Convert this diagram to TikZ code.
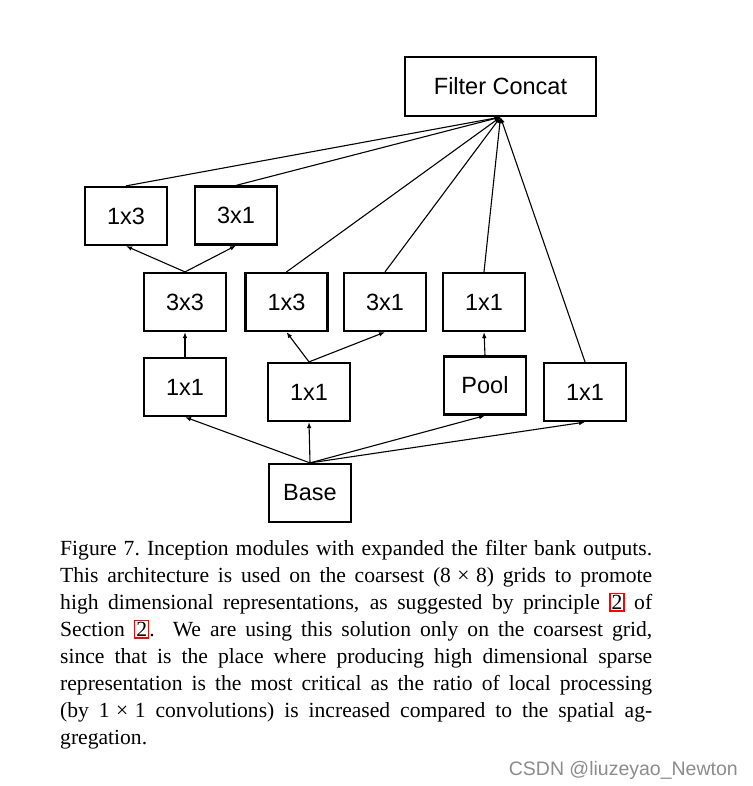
\documentclass[tikz,border=0pt]{standalone}
\usepackage{fontspec}
\setmainfont{Liberation Serif}
\newfontfamily\boxfont{Liberation Sans}
\usetikzlibrary{arrows.meta}
\newcommand{\redref}[1]{{\setlength\fboxsep{1pt}\setlength\fboxrule{1.3pt}\textcolor{red}{\fbox{\textcolor{black}{#1}}}}}
\begin{document}
\begin{tikzpicture}[x=1pt,y=-1pt,
  blk/.style={draw=black,line width=2.2pt,minimum width=82pt,minimum height=58pt,inner sep=0pt,font=\boxfont\fontsize{23.5}{26}\selectfont},
  conn/.style={line width=1.1pt,-{Latex[length=6pt,width=4.6pt]}},
  plain/.style={line width=1.1pt}]
\useasboundingbox (0,0) rectangle (752,786);
\node[blk,minimum width=191pt,minimum height=59pt] (fc) at (500.5,86.5) {Filter Concat};
\node[blk] (t13) at (126,216) {1x3};
\node[blk] (t31) at (236,215.5) {3x1};
\node[blk] (c33) at (185,302) {3x3};
\node[blk] (m13) at (286.5,302) {1x3};
\node[blk] (m31) at (385,302) {3x1};
\node[blk] (p11) at (484,302) {1x1};
\node[blk] (l11) at (185,387) {1x1};
\node[blk] (mid11) at (309,392) {1x1};
\node[blk] (pool) at (485,385.5) {Pool};
\node[blk] (r11) at (585,392) {1x1};
\node[blk] (base) at (310,493) {Base};
% base to first layer
\draw[conn] (base.north) -- (l11.south);
\draw[conn] (base.north) -- (mid11.south);
\draw[conn] (base.north) -- (pool.south);
\draw[conn] (base.north) -- (r11.south);
% second layer
\draw[conn] (l11.north) -- (c33.south);
\draw[conn] (mid11.north) -- (m13.south);
\draw[conn] (mid11.north) -- (m31.south);
\draw[conn] (pool.north) -- (p11.south);
\draw[conn] (c33.north) -- (t13.south);
\draw[conn] (c33.north) -- (t31.south);
% to concat
\draw[conn] (t13.north) -- (fc.south);
\draw[conn] (t31.north) -- (fc.south);
\draw[conn] (m13.north) -- (fc.south);
\draw[conn] (m31.north) -- (fc.south);
\draw[conn] (p11.north) -- (fc.south);
\draw[conn] (r11.north) -- (fc.south);
% caption
\node[anchor=north west,inner sep=0pt,text width=592pt,align=justify,font=\fontsize{21.6}{27}\selectfont] (cap) at (60,540)
{Figure 7.\ Inception modules with expanded the filter bank outputs.\linebreak
This architecture is used on the coarsest (8\hspace{0.3em}×\hspace{0.3em}8) grids to promote\linebreak
high dimensional representations, as suggested by principle \redref{2} of\linebreak
Section \redref{2}.\ \ We are using this solution only on the coarsest grid,\linebreak
since that is the place where producing high dimensional sparse\linebreak
representation is the most critical as the ratio of local processing\linebreak
(by 1\hspace{0.3em}×\hspace{0.3em}1 convolutions) is increased compared to the spatial ag-\linebreak
gregation.};
\node[anchor=base east,inner sep=0pt,text=black!45,font=\boxfont\fontsize{19.5}{20}\selectfont] (wm) at (738,775) {CSDN @liuzeyao\_Newton};
\end{tikzpicture}
\end{document}
